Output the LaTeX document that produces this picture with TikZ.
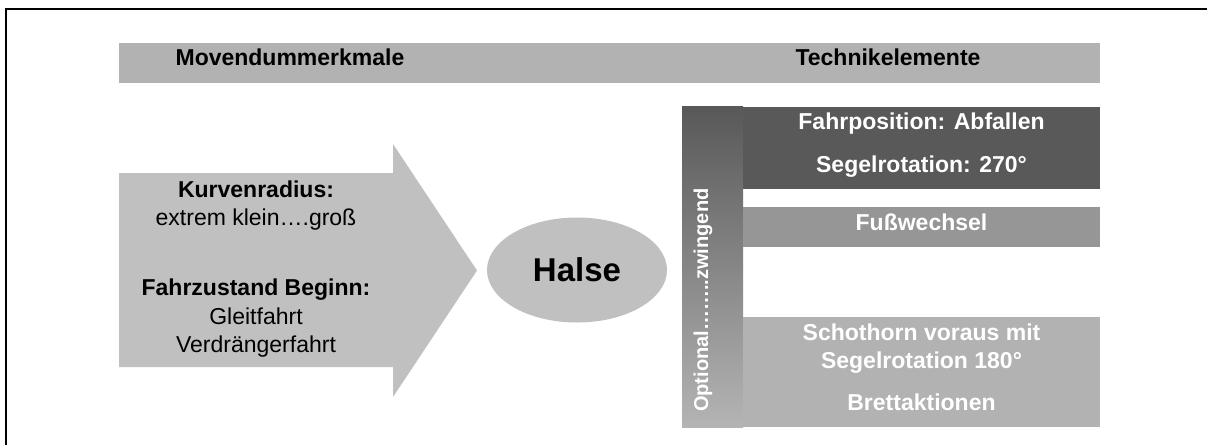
\documentclass[tikz,border=0pt]{standalone}
\usepackage{fontspec}
\setmainfont{Liberation Sans}
\usetikzlibrary{shapes.geometric}
\definecolor{barGray}{HTML}{B2B2B2}
\definecolor{arrowGray}{HTML}{C0C0C0}
\definecolor{darkGray}{HTML}{595959}
\definecolor{midGray}{HTML}{969696}
\definecolor{lightGray}{HTML}{B2B2B2}
\definecolor{gradTop}{HTML}{585858}
\definecolor{gradBottom}{HTML}{B4B4B4}
\tikzset{
  headtext/.style={font=\fontsize{23}{27}\selectfont\bfseries, text=black, inner sep=0pt, text height=0.75em, text depth=0.2em},
  boldtext/.style={font=\fontsize{23}{27}\selectfont\bfseries, text=black, inner sep=0pt, text height=0.75em, text depth=0.2em},
  plaintext/.style={font=\fontsize{23}{27}\selectfont, text=black, inner sep=0pt, text height=0.75em, text depth=0.2em},
  whitetext/.style={font=\fontsize{23}{27}\selectfont\bfseries, text=white, inner sep=0pt, text height=0.75em, text depth=0.2em},
}
\begin{document}
\begin{tikzpicture}[x=1pt,y=-1pt]
\useasboundingbox (0,0) rectangle (1207,445);
\fill[white] (0,0) rectangle (1207,445);

% outer frame
\draw[line width=2pt] (6,445) -- (6,9) -- (1207,9);

% header bar
\fill[barGray] (119,43) rectangle (1100,83);
\node[headtext] (hleft) at (290,63) {Movendummerkmale};
\node[headtext] (hright) at (888,63) {Technikelemente};

% input arrow
\fill[arrowGray] (119,173) -- (393,173) -- (393,144) -- (477,270.5)
  -- (393,397) -- (393,367) -- (119,367) -- cycle;
\node[boldtext]  (kr)  at (256,195) {Kurvenradius:};
\node[plaintext] (krv) at (256,223) {extrem klein….groß};
\node[boldtext]  (fz)  at (256,293) {Fahrzustand Beginn:};
\node[plaintext] (fz1) at (256,322) {Gleitfahrt};
\node[plaintext] (fz2) at (256,350) {Verdrängerfahrt};

% central manoeuvre
\node[ellipse, fill=arrowGray, minimum width=180pt, minimum height=105pt, inner sep=0pt,
      font=\fontsize{33}{38}\selectfont\bfseries] (halse) at (577,270) {Halse};

% gradient scale bar
\shade[top color=gradTop, bottom color=gradBottom] (682,106) rectangle (743,427);
\node[font=\fontsize{20}{24}\selectfont\bfseries, text=white, inner sep=0pt,
      rotate=90, anchor=west] (scale) at (703,412) {Optional……..zwingend};

% technique element boxes
\fill[darkGray] (743,107) rectangle (1100,189);
\fill[midGray] (743,207) rectangle (1100,247);
\fill[lightGray] (743,317) rectangle (1100,427);
\node[whitetext] (t1) at (921.5,127) {Fahrposition: Abfallen};
\node[whitetext] (t2) at (921.5,170) {Segelrotation: 270°};
\node[whitetext] (t3) at (921.5,228) {Fußwechsel};
\node[whitetext] (t4) at (921.5,338) {Schothorn voraus mit};
\node[whitetext] (t5) at (921.5,366) {Segelrotation 180°};
\node[whitetext] (t6) at (921.5,408) {Brettaktionen};
\end{tikzpicture}
\end{document}
